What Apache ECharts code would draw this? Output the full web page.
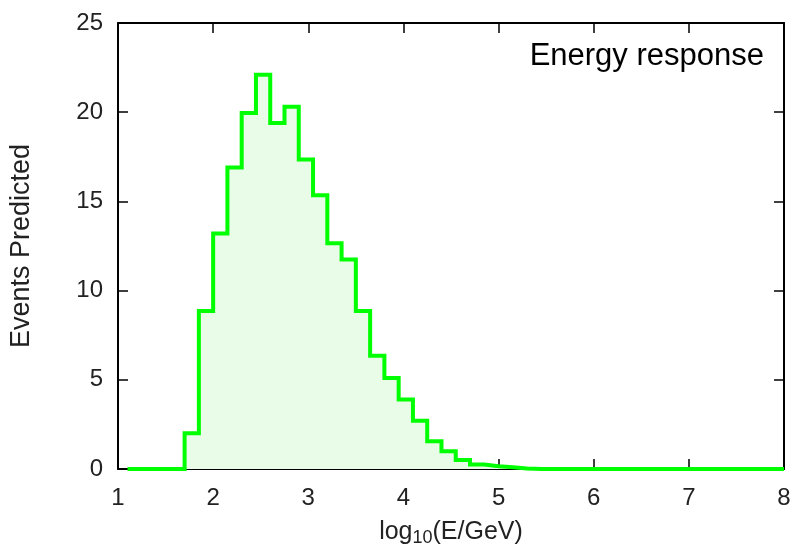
<!DOCTYPE html>
<html>
<head>
<meta charset="utf-8">
<script src="https://cdn.jsdelivr.net/npm/echarts@6/dist/echarts.min.js"></script>
<style>
  html, body { margin: 0; padding: 0; background: #fff; }
  #chart { width: 797px; height: 553px; }
</style>
</head>
<body>
<div id="chart"></div>
<script>
// Histogram bin edges in log10(E/GeV)
var binEdges = [
  1.10, 1.25, 1.40, 1.55, 1.70, 1.85, 2.00, 2.15, 2.30, 2.45,
  2.60, 2.75, 2.90, 3.05, 3.20, 3.35, 3.50, 3.65, 3.80, 3.95,
  4.10, 4.25, 4.40, 4.55, 4.70, 4.85, 5.00, 5.15, 5.30, 5.45,
  5.60, 5.75, 5.90, 6.05, 6.20, 6.35, 6.50, 6.65, 6.80, 6.95,
  7.10, 7.25, 7.40, 7.55, 7.70, 7.85, 8.00
];

// Predicted events per bin
var eventsPredicted = [
  0, 0, 0, 0, 2.0, 8.85, 13.2, 16.9, 19.95, 22.1,
  19.4, 20.3, 17.35, 15.35, 12.65, 11.75, 8.85, 6.35, 5.1, 3.9,
  2.7, 1.55, 1.0, 0.5, 0.25, 0.16, 0.1, 0.03, 0, 0,
  0, 0, 0, 0, 0, 0, 0, 0, 0, 0,
  0, 0, 0, 0, 0, 0
];

var xTicks = [1, 2, 3, 4, 5, 6, 7, 8];
var yTicks = [0, 5, 10, 15, 20, 25];

// Step outline: each bin starts at its left edge, closed at the last edge
var stepData = [];
for (var i = 0; i < eventsPredicted.length; i++) {
  stepData.push([binEdges[i], eventsPredicted[i]]);
}
stepData.push([binEdges[binEdges.length - 1], eventsPredicted[eventsPredicted.length - 1]]);

var FONT = '"Liberation Sans", Arial, Helvetica, sans-serif';
var tickStyle = { show: true, inside: true, length: 10, lineStyle: { color: '#000', width: 1.5 } };
var lineStyle = { show: true, onZero: false, lineStyle: { color: '#000', width: 2 } };

var chart = echarts.init(document.getElementById('chart'), null, { renderer: 'canvas' });
chart.setOption({
  animation: false,
  backgroundColor: '#fff',
  title: {
    text: 'Energy response',
    right: 28,
    top: 36,
    textStyle: { fontFamily: FONT, fontSize: 31, fontWeight: 'normal', color: '#000' }
  },
  grid: { left: 118, right: 13, top: 23, bottom: 84, outerBoundsMode: 'none', containLabel: false },
  xAxis: [
    {
      type: 'value', position: 'bottom',
      min: xTicks[0], max: xTicks[xTicks.length - 1], interval: 1,
      axisLine: lineStyle, axisTick: tickStyle, splitLine: { show: false },
      axisLabel: { fontFamily: FONT, fontSize: 24, color: '#222', margin: 17 },
      name: 'log{sub|10}(E/GeV)',
      nameLocation: 'middle', nameGap: 48,
      nameTextStyle: {
        fontFamily: FONT, fontSize: 25, color: '#222',
        rich: { sub: { fontFamily: FONT, fontSize: 18, color: '#222', padding: [12, 0, 0, 0] } }
      }
    },
    {
      type: 'value', position: 'top',
      min: xTicks[0], max: xTicks[xTicks.length - 1], interval: 1,
      axisLine: lineStyle, axisTick: tickStyle, splitLine: { show: false },
      axisLabel: { show: false }
    }
  ],
  yAxis: [
    {
      type: 'value', position: 'left',
      min: yTicks[0], max: yTicks[yTicks.length - 1], interval: 5,
      axisLine: lineStyle, axisTick: tickStyle, splitLine: { show: false },
      axisLabel: { fontFamily: FONT, fontSize: 24, color: '#222', margin: 15 },
      name: 'Events Predicted',
      nameLocation: 'middle', nameGap: 83, nameRotate: 90,
      nameTextStyle: { fontFamily: FONT, fontSize: 27, color: '#222' }
    },
    {
      type: 'value', position: 'right',
      min: yTicks[0], max: yTicks[yTicks.length - 1], interval: 5,
      axisLine: lineStyle, axisTick: tickStyle, splitLine: { show: false },
      axisLabel: { show: false }
    }
  ],
  series: [
    {
      type: 'line',
      xAxisIndex: 0, yAxisIndex: 0,
      step: 'end',
      data: stepData,
      showSymbol: false,
      symbol: 'none',
      clip: false,
      lineStyle: { color: '#00ff00', width: 4, join: 'miter' },
      areaStyle: { color: '#e8fce8', opacity: 1 },
      z: 1
    }
  ]
});
</script>
</body>
</html>
